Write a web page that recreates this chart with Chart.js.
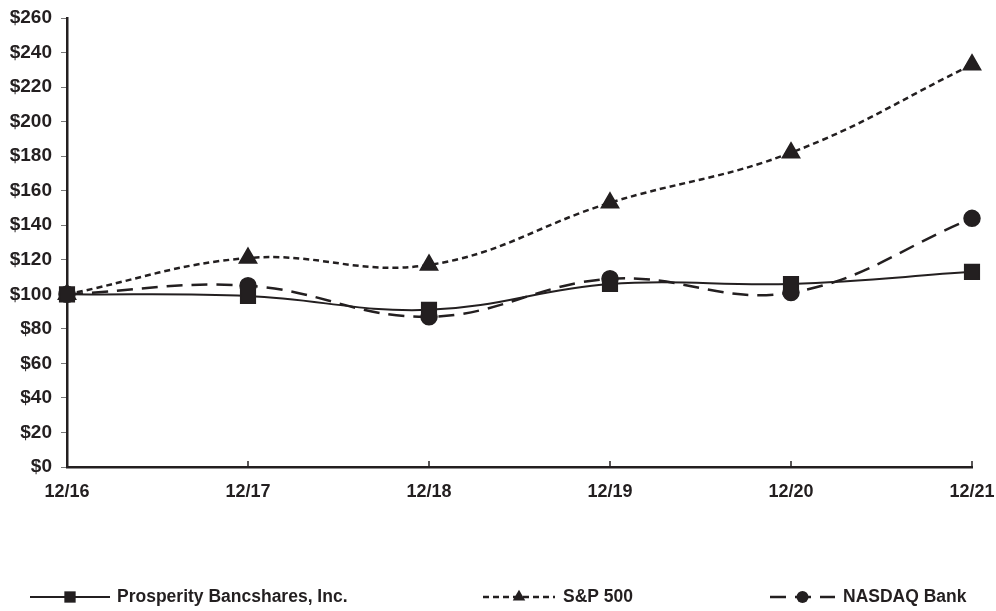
<!DOCTYPE html>
<html lang="en">
<head>
    <meta charset="UTF-8">
    <title>Total Return Performance</title>
    <script src="https://cdn.jsdelivr.net/npm/chart.js"></script>
    <style>
        html, body { margin: 0; padding: 0; background: #fff; }
        .chart-box { position: relative; width: 996px; height: 611px; }
    </style>
</head>
<body>
<div class="chart-box">
    <canvas id="perfChart"></canvas>
</div>

<script>
    // Data
    const periods = ['12/16', '12/17', '12/18', '12/19', '12/20', '12/21'];
    const prosperity = [100, 99, 91, 106, 106, 113];
    const sp500 = [100, 121, 117, 153, 182, 233];
    const nasdaqBank = [100, 105, 87, 109, 101, 144];
    const seriesNames = ['Prosperity Bancshares, Inc.', 'S&P 500', 'NASDAQ Bank'];

    const ink = '#231f20';
    const family = '"Liberation Sans", Arial, sans-serif';

    // legend item positions (sample start, sample end, text start)
    const legendSlots = [[30, 110, 117], [483, 555, 563], [770, 835, 843]];
    const legendY = 597;

    const extrasPlugin = {
        id: 'extras',
        afterDraw(chart) {
            const ctx = chart.ctx;
            const xs = chart.scales.x;
            const area = chart.chartArea;

            // small inward ticks on the category axis
            ctx.save();
            ctx.strokeStyle = ink;
            ctx.lineWidth = 1.5;
            for (let i = 1; i < periods.length; i++) {
                const px = xs.getPixelForTick(i);
                ctx.beginPath();
                ctx.moveTo(px, area.bottom);
                ctx.lineTo(px, area.bottom - 6);
                ctx.stroke();
            }
            ctx.restore();

            // legend with line + marker samples
            chart.data.datasets.forEach((ds, i) => {
                const [x0, x1, tx] = legendSlots[i];
                ctx.save();
                ctx.strokeStyle = ds.borderColor;
                ctx.lineWidth = ds.borderWidth;
                ctx.setLineDash(ds.borderDash || []);
                ctx.beginPath();
                ctx.moveTo(x0, legendY);
                ctx.lineTo(x1, legendY);
                ctx.stroke();
                ctx.setLineDash([]);
                ctx.fillStyle = ink;
                Chart.helpers.drawPoint(ctx, {
                    pointStyle: ds.pointStyle,
                    radius: ds.pointRadius * 0.8,
                    borderWidth: 0
                }, (x0 + x1) / 2, legendY);
                ctx.font = 'bold 17.5px ' + family;
                ctx.textBaseline = 'middle';
                ctx.fillText(ds.label, tx, legendY);
                ctx.restore();
            });
        }
    };

    const ctxPerf = document.getElementById('perfChart').getContext('2d');
    const perfChart = new Chart(ctxPerf, {
        type: 'line',
        data: {
            labels: periods,
            datasets: [{
                label: seriesNames[0],
                data: prosperity,
                borderColor: ink,
                backgroundColor: ink,
                borderWidth: 2,
                pointStyle: 'rect',
                pointRadius: 10,
                tension: 0.4
            },
            {
                label: seriesNames[1],
                data: sp500,
                borderColor: ink,
                backgroundColor: ink,
                borderWidth: 2.5,
                borderDash: [6, 4],
                pointStyle: 'triangle',
                pointRadius: 9,
                tension: 0.4
            },
            {
                label: seriesNames[2],
                data: nasdaqBank,
                borderColor: ink,
                backgroundColor: ink,
                borderWidth: 2.5,
                borderDash: [16, 9],
                pointStyle: 'circle',
                pointRadius: 7.5,
                tension: 0.4
            }]
        },
        options: {
            responsive: true,
            maintainAspectRatio: false,
            animation: false,
            layout: { padding: { top: 18, right: 24, bottom: 0, left: 0 } },
            plugins: {
                legend: { display: false },
                tooltip: { enabled: false }
            },
            elements: { point: { borderWidth: 0, hoverRadius: 0 } },
            scales: {
                x: {
                    offset: false,
                    grid: { display: true, drawOnChartArea: false, drawTicks: false },
                    border: { color: ink, width: 2.5 },
                    ticks: {
                        color: ink,
                        font: { family: family, size: 18, weight: 'bold' },
                        padding: 14,
                        maxRotation: 0,
                        autoSkip: false
                    },
                    afterFit(scale) {
                        scale.height = 144;
                        scale.paddingLeft = 0;
                        scale.paddingRight = 0;
                    }
                },
                y: {
                    min: 0,
                    max: 260,
                    grid: { drawOnChartArea: false, tickLength: 6, color: '#777' },
                    border: { color: ink, width: 2.5 },
                    ticks: {
                        stepSize: 20,
                        color: ink,
                        font: { family: family, size: 19, weight: 'bold' },
                        padding: 9,
                        callback: v => '$' + v
                    },
                    afterFit(scale) {
                        scale.width = 67;
                        scale.paddingTop = 0;
                        scale.paddingBottom = 0;
                    }
                }
            }
        },
        plugins: [extrasPlugin]
    });
</script>
</body>
</html>
